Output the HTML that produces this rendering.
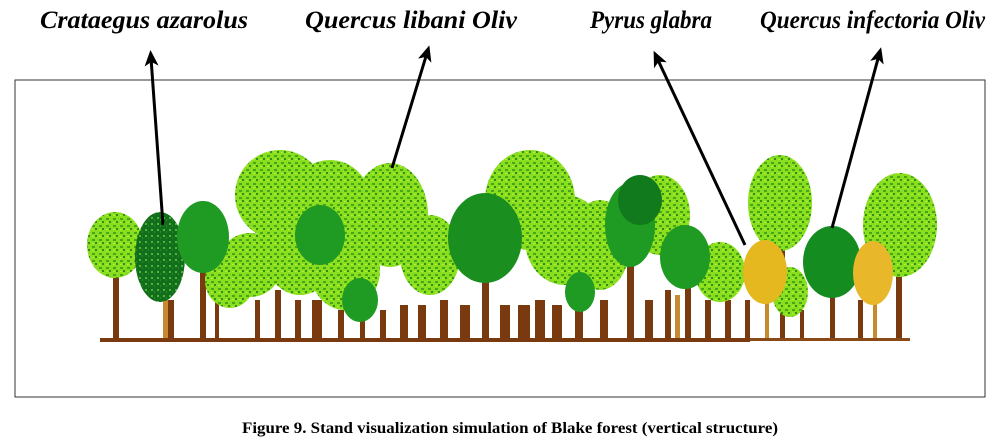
<!DOCTYPE html>
<html><head><meta charset="utf-8"><style>
body{margin:0;background:#fff;width:1001px;height:447px;overflow:hidden}
svg{display:block}
</style></head><body>
<svg width="1001" height="447" viewBox="0 0 1001 447" xmlns="http://www.w3.org/2000/svg">
<defs>
<pattern id="lg" width="7" height="7" patternUnits="userSpaceOnUse">
<rect width="7" height="7" fill="#8ade1e"/>
<rect x="1" y="1" width="3" height="2" fill="#45a81a"/>
<rect x="4" y="4" width="2" height="2" fill="#2f8f18"/>
<rect x="1" y="5" width="2" height="1" fill="#b5f030"/>
</pattern>
<pattern id="dk" width="6" height="6" patternUnits="userSpaceOnUse">
<rect width="6" height="6" fill="#136e1c"/>
<rect x="1" y="1" width="2" height="2" fill="#4cb540"/>
<rect x="4" y="3" width="1" height="2" fill="#2a8a2a"/>
</pattern>
<marker id="ah" markerWidth="16" markerHeight="14" refX="8" refY="7" orient="auto" markerUnits="userSpaceOnUse" viewBox="0 0 16 14">
<path d="M0,0 L16,7 L0,14 L4,7 Z" fill="#000"/>
</marker>
</defs>
<rect x="15" y="80" width="970" height="317" fill="#fff" stroke="#333" stroke-width="1"/>
<g fill="#7a3a10">
<rect x="113" y="270" width="6" height="70"/><rect x="168" y="300" width="6" height="40"/>
<rect x="200" y="270" width="6" height="70"/><rect x="215" y="300" width="4" height="40"/>
<rect x="255" y="300" width="5" height="40"/><rect x="275" y="290" width="6" height="50"/>
<rect x="295" y="300" width="6" height="40"/><rect x="312" y="300" width="10" height="40"/>
<rect x="338" y="310" width="6" height="30"/><rect x="360" y="310" width="5" height="30"/>
<rect x="380" y="310" width="6" height="30"/><rect x="400" y="305" width="8" height="35"/>
<rect x="418" y="305" width="8" height="35"/><rect x="440" y="300" width="8" height="40"/>
<rect x="460" y="305" width="10" height="35"/><rect x="482" y="270" width="7" height="70"/>
<rect x="500" y="305" width="10" height="35"/><rect x="518" y="305" width="12" height="35"/>
<rect x="535" y="300" width="10" height="40"/><rect x="552" y="305" width="10" height="35"/>
<rect x="575" y="305" width="8" height="35"/><rect x="600" y="300" width="8" height="40"/>
<rect x="627" y="265" width="7" height="75"/><rect x="645" y="300" width="8" height="40"/>
<rect x="665" y="290" width="6" height="50"/><rect x="685" y="285" width="6" height="55"/>
<rect x="705" y="300" width="6" height="40"/><rect x="725" y="300" width="6" height="40"/>
<rect x="745" y="300" width="5" height="40"/><rect x="780" y="250" width="5" height="90"/>
<rect x="800" y="310" width="4" height="30"/><rect x="830" y="290" width="5" height="50"/>
<rect x="858" y="300" width="5" height="40"/><rect x="896" y="270" width="6" height="70"/>
</g>
<g fill="#c88a30"><rect x="163" y="300" width="5" height="40"/><rect x="765" y="295" width="4" height="45"/><rect x="873" y="300" width="4" height="40"/><rect x="675" y="295" width="5" height="45"/></g>
<rect x="100" y="338" width="650" height="4" fill="#7a3a10"/>
<rect x="750" y="338" width="160" height="3" fill="#8a4a18"/>
<g fill="url(#lg)">
<ellipse cx="115" cy="245" rx="28" ry="33"/>
<ellipse cx="280" cy="195" rx="45" ry="45"/>
<ellipse cx="330" cy="200" rx="40" ry="40"/>
<ellipse cx="250" cy="265" rx="32" ry="32"/>
<ellipse cx="300" cy="255" rx="35" ry="40"/>
<ellipse cx="345" cy="270" rx="35" ry="40"/>
<ellipse cx="430" cy="255" rx="30" ry="40"/>
<ellipse cx="530" cy="200" rx="45" ry="50"/>
<ellipse cx="565" cy="240" rx="40" ry="45"/>
<ellipse cx="600" cy="245" rx="30" ry="45"/>
<ellipse cx="660" cy="215" rx="30" ry="40"/>
<ellipse cx="720" cy="272" rx="25" ry="30"/>
<ellipse cx="780" cy="203" rx="32" ry="48"/>
<ellipse cx="790" cy="292" rx="18" ry="25"/>
<ellipse cx="900" cy="225" rx="37" ry="52"/>
<ellipse cx="230" cy="280" rx="25" ry="28"/>
</g>
<g fill="#1f9a22">
<ellipse cx="320" cy="235" rx="25" ry="30"/>
<ellipse cx="360" cy="300" rx="18" ry="22"/>
<ellipse cx="630" cy="225" rx="25" ry="42"/>
<ellipse cx="580" cy="292" rx="15" ry="20"/>
</g>
<g fill="url(#lg)"><ellipse cx="390" cy="215" rx="38" ry="52"/></g>
<ellipse cx="640" cy="200" rx="22" ry="25" fill="#117a1c"/>
<ellipse cx="160" cy="257" rx="25" ry="45" fill="url(#dk)"/>
<ellipse cx="203" cy="237" rx="26" ry="36" fill="#1f9a22"/>
<ellipse cx="485" cy="238" rx="37" ry="45" fill="#1a8f1f"/>
<ellipse cx="685" cy="257" rx="25" ry="32" fill="#1f9a22"/>
<ellipse cx="765" cy="272" rx="22" ry="32" fill="#e6b820"/>
<ellipse cx="832" cy="262" rx="29" ry="36" fill="#148c20"/>
<ellipse cx="873" cy="273" rx="20" ry="32" fill="#e8b82a"/>
<g stroke="#000" stroke-width="3" marker-end="url(#ah)">
<line x1="163" y1="225" x2="151" y2="58"/>
<line x1="392" y1="168" x2="427" y2="53"/>
<line x1="745" y1="245" x2="657" y2="58"/>
<line x1="832" y1="228" x2="879" y2="55"/>
</g>
<g font-family="Liberation Serif, serif" font-style="italic" font-weight="bold" font-size="25" fill="#000">
<text x="40" y="28" textLength="208" lengthAdjust="spacingAndGlyphs">Crataegus azarolus</text>
<text x="305" y="28" textLength="212" lengthAdjust="spacingAndGlyphs">Quercus libani Oliv</text>
<text x="590" y="28" textLength="122" lengthAdjust="spacingAndGlyphs">Pyrus glabra</text>
<text x="760" y="28" textLength="225" lengthAdjust="spacingAndGlyphs">Quercus infectoria Oliv</text>
</g>
<text x="242" y="433" textLength="536" lengthAdjust="spacingAndGlyphs" font-family="Liberation Serif, serif" font-weight="bold" font-size="16">Figure 9. Stand visualization simulation of Blake forest (vertical structure)</text>
</svg>
</body></html>
